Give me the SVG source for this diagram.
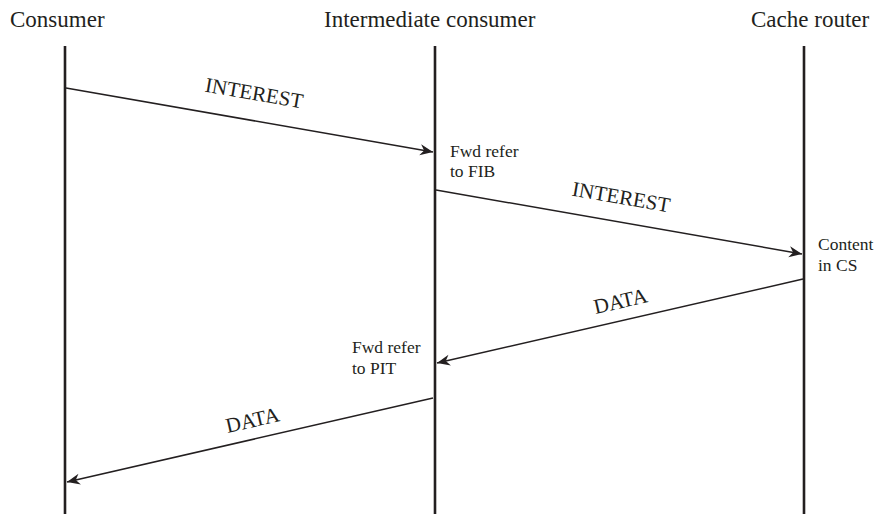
<svg xmlns="http://www.w3.org/2000/svg" width="878" height="514" viewBox="0 0 878 514">
  <style>
    text { font-family: 'Liberation Serif', 'Times New Roman', Times, 'DejaVu Serif', serif; fill: #231f20; }
    .title { font-size: 23px; }
    .msg { font-size: 21px; text-anchor: middle; }
    .note { font-size: 17.5px; }
    .life { stroke: #231f20; stroke-width: 2.6; fill: none; }
    .arrow { stroke: #231f20; stroke-width: 1.5; fill: none; marker-end: url(#head); }
  </style>
  <defs>
    <marker id="head" viewBox="-14 -6 15 12" refX="0" refY="0" markerWidth="15" markerHeight="12" markerUnits="userSpaceOnUse" orient="auto">
      <path d="M0,0 L-13,-5.5 L-9,0 L-13,5.5 Z" fill="#231f20"/>
    </marker>
  </defs>
  <rect width="878" height="514" fill="#ffffff"/>

  <!-- participants with their lifelines -->
  <g id="consumer">
    <text class="title" x="10" y="27">Consumer</text>
    <line class="life" x1="65" y1="46" x2="65" y2="514"/>
  </g>
  <g id="intermediate-consumer">
    <text class="title" x="324" y="27">Intermediate consumer</text>
    <line class="life" x1="435" y1="46" x2="435" y2="514"/>
    <text class="note" x="450" y="157">Fwd refer</text>
    <text class="note" x="450" y="177">to FIB</text>
    <text class="note" x="352" y="353">Fwd refer</text>
    <text class="note" x="352" y="374">to PIT</text>
  </g>
  <g id="cache-router">
    <text class="title" x="751" y="27">Cache router</text>
    <line class="life" x1="804" y1="46" x2="804" y2="514"/>
    <text class="note" x="818" y="250">Content</text>
    <text class="note" x="818" y="271">in CS</text>
  </g>

  <!-- messages -->
  <g id="connectors">
    <line class="arrow" x1="66" y1="88" x2="433" y2="152"/>
    <text class="msg" transform="translate(253 100) rotate(9.8)">INTEREST</text>

    <line class="arrow" x1="436" y1="190" x2="802" y2="254"/>
    <text class="msg" transform="translate(620 204) rotate(9.8)">INTEREST</text>

    <line class="arrow" x1="803" y1="279" x2="437" y2="363"/>
    <text class="msg" transform="translate(622 308) rotate(-12.9)">DATA</text>

    <line class="arrow" x1="433" y1="398" x2="67" y2="482"/>
    <text class="msg" transform="translate(254 427) rotate(-12.9)">DATA</text>
  </g>
</svg>
